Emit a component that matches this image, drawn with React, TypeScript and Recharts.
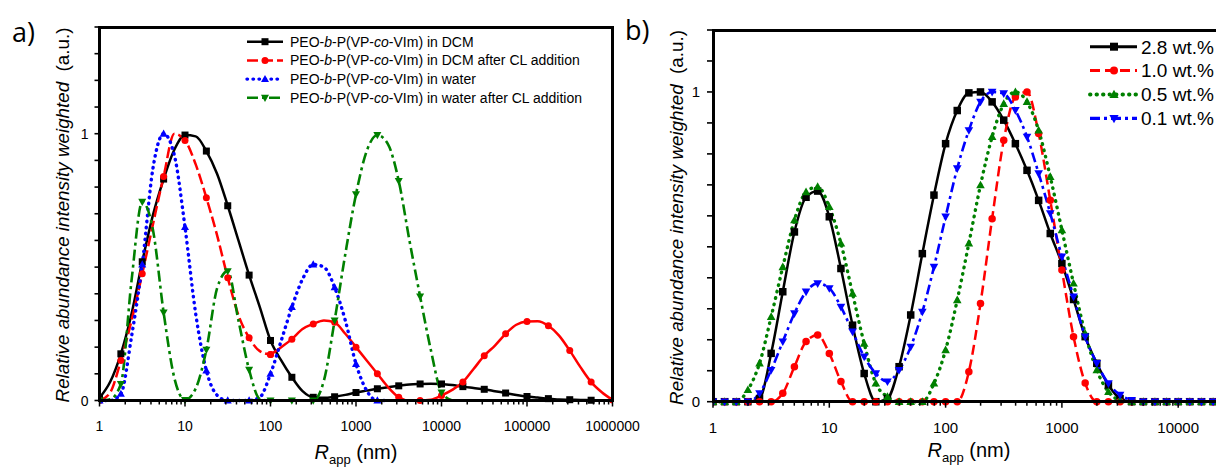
import React from 'react';
import { LineChart, Line, XAxis, YAxis, Legend } from 'recharts';

const FONT = 'Arial, "Liberation Sans", Helvetica, sans-serif';
const W = 1216;
const H = 468;

// ---------- panel a : R_app grid (nm), 8 points per decade ----------
const radiusA = [
  1, 1.334, 1.778, 2.371, 3.162, 4.217, 5.623, 7.499,
  10, 13.34, 17.78, 23.71, 31.62, 42.17, 56.23, 74.99,
  100, 133.4, 177.8, 237.1, 316.2, 421.7, 562.3, 749.9,
  1000, 1334, 1778, 2371, 3162, 4217, 5623, 7499,
  10000, 13335, 17783, 23714, 31623, 42170, 56234, 74989,
  100000, 133352, 177828, 237137, 316228, 421697, 562341, 749894,
  1000000,
];
const inDcm = [
  0.01, 0.07, 0.175, 0.325, 0.52, 0.695, 0.83, 0.94,
  0.995, 0.99, 0.935, 0.85, 0.73, 0.6, 0.47, 0.35,
  0.225, 0.15, 0.087, 0.035, 0.012, 0.01, 0.014, 0.021,
  0.03, 0.037, 0.044, 0.05, 0.055, 0.06, 0.062, 0.063,
  0.062, 0.058, 0.052, 0.047, 0.042, 0.035, 0.028, 0.021,
  0.015, 0.011, 0.007, 0.004, 0.003, 0.002, 0.001,
];
const inDcmCl = [
  0, 0.03, 0.15, 0.3, 0.475, 0.66, 0.84, 1.0,
  0.975, 0.885, 0.76, 0.62, 0.46, 0.32, 0.235, 0.185,
  0.172, 0.2, 0.23, 0.268, 0.287, 0.3, 0.293, 0.25,
  0.2, 0.15, 0.1, 0.05, 0.012, 0, 0, 0.003,
  0.019, 0.04, 0.069, 0.118, 0.168, 0.206, 0.25, 0.284,
  0.296, 0.297, 0.28, 0.243, 0.187, 0.125, 0.069, 0.031,
  0.002,
];
const inWater = [
  0, 0, 0.025, 0.24, 0.51, 0.87, 1.0, 0.92,
  0.65, 0.325, 0.112, 0.02, 0, 0, 0, 0.012,
  0.1, 0.224, 0.35, 0.455, 0.51, 0.5, 0.424, 0.3,
  0.137, 0.037, 0, 0,
];
const inWaterCl = [
  0, 0.005, 0.062, 0.45, 0.745, 0.64, 0.33, 0.085,
  0.002, 0.045, 0.19, 0.42, 0.485, 0.3, 0.115, 0.006,
  0, 0, 0, 0, 0, 0.075, 0.3, 0.549,
  0.773, 0.935, 0.995, 0.96, 0.823, 0.6, 0.39, 0.19,
  0.03, 0,
];
const namesA = ['in DCM', 'in DCM after CL addition', 'in water', 'in water after CL addition'];

// ---------- panel b : R_app grid (nm), 10 points per decade ----------
const radiusB = [
  1, 1.259, 1.585, 1.995, 2.512, 3.162, 3.981, 5.012, 6.31, 7.943,
  10, 12.59, 15.85, 19.95, 25.12, 31.62, 39.81, 50.12, 63.1, 79.43,
  100, 125.9, 158.5, 199.5, 251.2, 316.2, 398.1, 501.2, 631, 794.3,
  1000, 1259, 1585, 1995, 2512, 3162, 3981, 5012, 6310, 7943,
  10000, 12589, 15849, 19953, 25119,
];
const wt28 = [
  0, 0, 0, 0, 0.01, 0.156, 0.355, 0.548, 0.66, 0.68,
  0.597, 0.43, 0.247, 0.091, 0, 0.01, 0.113, 0.28, 0.478, 0.667,
  0.833, 0.94, 0.997, 1.0, 0.968, 0.909, 0.833, 0.747, 0.65, 0.543,
  0.446, 0.33, 0.21, 0.124, 0.054, 0.01, 0, 0, 0, 0,
  0, 0, 0, 0, 0,
];
const wt10 = [
  0, 0, 0, 0, 0, 0, 0.027, 0.113, 0.194, 0.215,
  0.156, 0.065, 0, 0, 0, 0, 0, 0, 0, 0,
  0, 0, 0.097, 0.317, 0.591, 0.844, 0.984, 1.0, 0.866, 0.65,
  0.425, 0.21, 0.06, 0, 0, 0, 0, 0, 0, 0,
  0, 0, 0, 0, 0,
];
const wt05 = [
  0, 0, 0, 0.038, 0.124, 0.274, 0.435, 0.586, 0.677, 0.694,
  0.629, 0.511, 0.349, 0.188, 0.059, 0.016, 0, 0, 0, 0.059,
  0.167, 0.328, 0.511, 0.699, 0.855, 0.962, 1.0, 0.968, 0.876, 0.726,
  0.554, 0.382, 0.22, 0.102, 0.032, 0.005, 0, 0, 0, 0,
  0, 0, 0, 0, 0,
];
const wt01 = [
  0, 0, 0, 0, 0.027, 0.102, 0.194, 0.285, 0.355, 0.382,
  0.366, 0.306, 0.226, 0.145, 0.091, 0.065, 0.102, 0.177, 0.29, 0.435,
  0.597, 0.753, 0.876, 0.968, 1.0, 0.995, 0.941, 0.855, 0.737, 0.608,
  0.468, 0.339, 0.21, 0.124, 0.059, 0.022, 0.005, 0, 0, 0,
  0, 0, 0, 0, 0,
];
const namesB = ['2.8 wt.%', '1.0 wt.%', '0.5 wt.%', '0.1 wt.%'];

// axis ticks
const decadesA = [1, 10, 100, 1000, 10000, 100000, 1000000];
const decadesB = [1, 10, 100, 1000, 10000];
const yTicksA = [0, 0.1, 0.2, 0.3, 0.4, 0.5, 0.6, 0.7, 0.8, 0.9, 1, 1.1, 1.2, 1.3, 1.4];
const yTicksB = [0, 0.1, 0.2, 0.3, 0.4, 0.5, 0.6, 0.7, 0.8, 0.9, 1, 1.1, 1.2];

const withMinor = (decs: number[]) =>
  decs.flatMap((d, i) => (i < decs.length - 1 ? [1, 2, 3, 4, 5, 6, 7, 8, 9].map((m) => m * d) : [d]));

const toPts = (xs: number[], ys: number[]) => ys.map((y, i) => ({ x: xs[i], y }));

type Shape = 'square' | 'circle' | 'up' | 'down';

function Marker({ shape, cx, cy, color, size }: { shape: Shape; cx: number; cy: number; color: string; size: number }) {
  const s = size / 2;
  if (shape === 'square') return <rect x={cx - s} y={cy - s} width={size} height={size} fill={color} />;
  if (shape === 'circle') return <circle cx={cx} cy={cy} r={s} fill={color} />;
  if (shape === 'up')
    return <polygon points={`${cx},${cy - s * 1.2} ${cx - s * 1.15},${cy + s * 0.85} ${cx + s * 1.15},${cy + s * 0.85}`} fill={color} />;
  return <polygon points={`${cx},${cy + s * 1.2} ${cx - s * 1.15},${cy - s * 0.85} ${cx + s * 1.15},${cy - s * 0.85}`} fill={color} />;
}

const dotFor = (shape: Shape, color: string, size: number, every: number) => (p: any) => {
  const { cx, cy, index } = p;
  if (cx == null || cy == null || index % every !== 0) return <g key={`e${index}`} />;
  return <Marker key={`m${index}`} shape={shape} cx={cx} cy={cy} color={color} size={size} />;
};

function LogTick(props: any) {
  const { x, y, payload, decades, fontSize, labelDy } = props;
  const v = payload.value;
  const major = decades.includes(v);
  const len = major ? 6 : 4;
  return (
    <g>
      <path d={`M${x},${y}V${y + len}`} stroke="#000" strokeWidth={1.5} fill="none" />
      {major && (
        <text x={x} y={y + labelDy} textAnchor="middle" fontSize={fontSize} fontFamily={FONT} fill="#000">
          {v}
        </text>
      )}
    </g>
  );
}

function LinTick(props: any) {
  const { x, y, payload, len, gap, fontSize } = props;
  const v = payload.value;
  const label = v === 0 || v === 1 ? String(v) : '';
  return (
    <g>
      <path d={`M${x - len},${y}H${x + 1}`} stroke="#000" strokeWidth={1.6} fill="none" />
      {label && (
        <text x={x - len - gap} y={y + fontSize * 0.36} textAnchor="end" fontSize={fontSize} fontFamily={FONT} fill="#000">
          {label}
        </text>
      )}
    </g>
  );
}

interface Series {
  name: string;
  ys: number[];
  color: string;
  dash?: string;
  cap?: 'round' | 'butt';
  width: number;
  shape: Shape;
}

const seriesA: Series[] = [
  { name: namesA[0], ys: inDcm, color: '#000000', width: 2.5, shape: 'square' },
  { name: namesA[1], ys: inDcmCl, color: '#ff0000', dash: '11 4', width: 2.5, shape: 'circle' },
  { name: namesA[2], ys: inWater, color: '#0000ff', dash: '0.5 5.5', cap: 'round', width: 3.4, shape: 'up' },
  { name: namesA[3], ys: inWaterCl, color: '#008000', dash: '11 4 3 4', width: 2.6, shape: 'down' },
];

const seriesB: Series[] = [
  { name: namesB[0], ys: wt28, color: '#000000', width: 2.5, shape: 'square' },
  { name: namesB[1], ys: wt10, color: '#ff0000', dash: '10 5', width: 2.5, shape: 'circle' },
  { name: namesB[2], ys: wt05, color: '#008000', dash: '0.5 6', cap: 'round', width: 3.4, shape: 'up' },
  { name: namesB[3], ys: wt01, color: '#0000ff', dash: '10 4 3 4', width: 2.6, shape: 'down' },
];

// the red DCM+CL trace looks dashed only on its steep first peak
const RED_SPLIT = 16;

function PeoLabel({ suffix }: { suffix: string }) {
  return (
    <>
      <tspan>PEO-</tspan>
      <tspan fontStyle="italic">b</tspan>
      <tspan>-P(VP-</tspan>
      <tspan fontStyle="italic">co</tspan>
      <tspan>{`-VIm) ${suffix}`}</tspan>
    </>
  );
}

function LegendA() {
  return (
    <svg width={370} height={80}>
      {seriesA.map((s, i) => {
        const cy = 11.7 + 18.7 * i;
        return (
          <g key={s.name}>
            <line x1={7} x2={43} y1={cy} y2={cy} stroke={s.color} strokeWidth={s.width} strokeDasharray={s.dash} strokeLinecap={s.cap ?? 'butt'} />
            <Marker shape={s.shape} cx={25} cy={cy} color={s.color} size={7} />
            <text x={50} y={cy + 5} fontSize={14} fontFamily={FONT} fill="#000">
              <PeoLabel suffix={s.name} />
            </text>
          </g>
        );
      })}
    </svg>
  );
}

function LegendB() {
  return (
    <svg width={160} height={110}>
      {seriesB.map((s, i) => {
        const cy = 16.7 + 23.9 * i;
        return (
          <g key={s.name}>
            <line x1={5} x2={52} y1={cy} y2={cy} stroke={s.color} strokeWidth={s.width + 0.5} strokeDasharray={s.dash} strokeLinecap={s.cap ?? 'butt'} />
            <Marker shape={s.shape} cx={29} cy={cy} color={s.color} size={8} />
            <text x={56} y={cy + 6.8} fontSize={19} fontFamily={FONT} fill="#000">
              {s.name}
            </text>
          </g>
        );
      })}
    </svg>
  );
}

function PanelA() {
  const lines: React.ReactNode[] = [];
  seriesA.forEach((s) => {
    const pts = toPts(radiusA, s.ys);
    const common = {
      dataKey: 'y',
      type: 'monotone' as const,
      stroke: s.color,
      strokeWidth: s.width,
      activeDot: false as const,
      isAnimationActive: false,
    };
    if (s.ys === inDcmCl) {
      lines.push(
        <Line key={s.name + 'a'} {...common} data={pts.slice(0, RED_SPLIT + 1)} name={s.name} strokeDasharray={s.dash} dot={dotFor(s.shape, s.color, 7, 2)} />,
        <Line key={s.name + 'b'} {...common} data={pts.slice(RED_SPLIT)} name={s.name + ' '} legendType="none" dot={dotFor(s.shape, s.color, 7, 2)} />,
      );
    } else {
      lines.push(
        <Line key={s.name} {...common} data={pts} name={s.name} strokeDasharray={s.dash} strokeLinecap={s.cap ?? 'butt'} dot={dotFor(s.shape, s.color, 7, 2)} />,
      );
    }
  });
  return (
    <LineChart width={620} height={H} margin={{ top: 27, right: 7.5, bottom: 37.5, left: 59.5 }}>
      <XAxis
        type="number"
        dataKey="x"
        scale="log"
        domain={[1, 1000000]}
        allowDataOverflow
        ticks={withMinor(decadesA)}
        interval={0}
        tickSize={0}
        tickMargin={0}
        axisLine={false}
        height={30}
        tick={(p: any) => <LogTick {...p} decades={decadesA} fontSize={14} labelDy={30} />}
      />
      <YAxis
        type="number"
        domain={[0, 1.4]}
        ticks={yTicksA}
        interval={0}
        width={40}
        axisLine={false}
        tickSize={0}
        tickMargin={0}
        tick={(p: any) => <LinTick {...p} len={5} gap={6} fontSize={14} />}
      />
      {lines}
      <Legend
        layout="vertical"
        align="center"
        verticalAlign="middle"
        content={() => <LegendA />}
        wrapperStyle={{ left: 240, top: 30, width: 370, height: 80 }}
      />
    </LineChart>
  );
}

function PanelB() {
  return (
    <LineChart width={700} height={H} margin={{ top: 30, right: 25.5, bottom: 36.3, left: 53 }}>
      <XAxis
        type="number"
        dataKey="x"
        scale="log"
        domain={[1, 100000]}
        allowDataOverflow
        ticks={withMinor(decadesB)}
        interval={0}
        tickSize={0}
        tickMargin={0}
        axisLine={false}
        height={30}
        tick={(p: any) => <LogTick {...p} decades={decadesB} fontSize={15} labelDy={31} />}
      />
      <YAxis
        type="number"
        domain={[0, 1.2]}
        ticks={yTicksB}
        interval={0}
        width={40}
        axisLine={false}
        tickSize={0}
        tickMargin={0}
        tick={(p: any) => <LinTick {...p} len={6} gap={7} fontSize={15} />}
      />
      {seriesB.map((s) => (
        <Line
          key={s.name}
          data={toPts(radiusB, s.ys)}
          dataKey="y"
          name={s.name}
          type="monotone"
          stroke={s.color}
          strokeWidth={s.width}
          strokeDasharray={s.dash}
          strokeLinecap={s.cap ?? 'butt'}
          dot={dotFor(s.shape, s.color, 7.5, 1)}
          activeDot={false}
          isAnimationActive={false}
        />
      ))}
      <Legend
        layout="vertical"
        align="center"
        verticalAlign="middle"
        content={() => <LegendB />}
        wrapperStyle={{ left: 465, top: 30, width: 160, height: 110 }}
      />
    </LineChart>
  );
}

function Rapp({ x, y }: { x: number; y: number }) {
  return (
    <text x={x} y={y} textAnchor="middle" fontSize={20} fontFamily={FONT} fill="#000">
      <tspan fontStyle="italic">R</tspan>
      <tspan fontSize={13} dy={5}>app</tspan>
      <tspan dy={-5}>{'\u00a0(nm)'}</tspan>
    </text>
  );
}

function YTitle({ x, y }: { x: number; y: number }) {
  return (
    <text transform={`translate(${x},${y}) rotate(-90)`} textAnchor="middle" fontSize={18.8} fontFamily={FONT} fill="#000">
      <tspan fontStyle="italic">Relative abundance intensity weighted</tspan>
      <tspan>{'\u00a0\u00a0(a.u.)'}</tspan>
    </text>
  );
}

// thick plot box, as a bordered html block over the chart
const boxStyle = (left: number, top: number, w: number, h: number): React.CSSProperties => ({
  position: 'absolute',
  left: left - 1.5,
  top: top - 1.5,
  width: w + 3,
  height: h + 3,
  border: '3px solid #000',
  boxSizing: 'border-box',
  pointerEvents: 'none',
});

export default function App() {
  return (
    <div style={{ position: 'absolute', left: 0, top: 0, width: W, height: H, overflow: 'hidden', background: '#fff' }}>
      <style>{'.recharts-surface{overflow:visible}'}</style>
      <div style={{ position: 'absolute', left: 0, top: 0 }}>
        <PanelA />
      </div>
      <div style={{ position: 'absolute', left: 620, top: 0 }}>
        <PanelB />
      </div>
      <div style={boxStyle(99.5, 27, 513, 373.5)} />
      <div style={boxStyle(713, 30, 581.5, 371.7)} />
      <svg width={W} height={H} style={{ position: 'absolute', left: 0, top: 0, pointerEvents: 'none' }}>
        <text x={12} y={42} fontSize={27} fontFamily='"Open Sans", "DejaVu Sans", sans-serif' fill="#000">a)</text>
        <text x={625} y={40} fontSize={27} fontFamily='"Open Sans", "DejaVu Sans", sans-serif' fill="#000">b)</text>
        <YTitle x={69} y={215} />
        <YTitle x={682.5} y={217.5} />
        <Rapp x={356} y={459} />
        <Rapp x={969} y={457} />
      </svg>
    </div>
  );
}
